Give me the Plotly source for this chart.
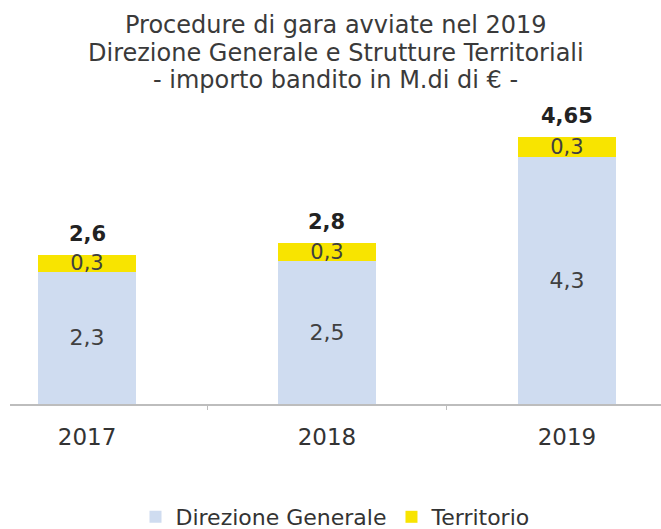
import plotly.graph_objects as go

years = ["2017", "2018", "2019"]
direzione = [2.3, 2.5, 4.3]
territorio = [0.3, 0.3, 0.35]
direzione_labels = ["2,3", "2,5", "4,3"]
territorio_labels = ["0,3", "0,3", "0,3"]
totals = [2.6, 2.8, 4.65]
total_labels = ["2,6", "2,8", "4,65"]
title_lines = [
    "Procedure di gara avviate nel 2019",
    "Direzione Generale e Strutture Territoriali",
    "- importo bandito in M.di di € -",
]

FONT = "DejaVu Sans"
W, H = 661, 529
MT, MB = 100, 125
PLOT_H = H - MT - MB

fig = go.Figure()
fig.add_trace(go.Bar(
    x=years, y=direzione, name="Direzione Generale",
    marker=dict(color="#cfdcf0", line=dict(width=0)),
    text=direzione_labels, textposition="inside", insidetextanchor="middle",
    constraintext="none", textangle=0,
    textfont=dict(family=FONT, size=22, color="#404040"),
))
fig.add_trace(go.Bar(
    x=years, y=territorio, name="Territorio",
    marker=dict(color="#f8e400", line=dict(width=0)),
    text=territorio_labels, textposition="inside", insidetextanchor="middle",
    constraintext="none", textangle=0,
    textfont=dict(family=FONT, size=21, color="#404040"),
))

annotations = []
for i, (tot, lab) in enumerate(zip(totals, total_labels)):
    annotations.append(dict(
        x=i, y=tot, xref="x", yref="y", text="<b>%s</b>" % lab,
        showarrow=False, yanchor="bottom", yshift=7,
        font=dict(family=FONT, size=21, color="#222222"),
    ))

title_centers_px = [25, 53, 80]
for line, py in zip(title_lines, title_centers_px):
    annotations.append(dict(
        x=0.5, xref="paper", xanchor="center",
        y=(H - MB - py) / PLOT_H, yref="paper", yanchor="middle",
        text=line, showarrow=False,
        font=dict(family=FONT, size=24, color="#3a3a3a"),
    ))

fig.update_layout(
    width=W, height=H,
    barmode="stack", bargap=0.59,
    paper_bgcolor="white", plot_bgcolor="white",
    margin=dict(l=10, r=0, t=MT, b=MB, autoexpand=False),
    annotations=annotations,
    xaxis=dict(
        type="category", range=[-0.321, 2.392],
        showline=True, linecolor="#bdbdbd", linewidth=1.5,
        ticks="outside", tickson="boundaries", ticklen=4, tickcolor="#bdbdbd",
        ticklabelstandoff=12,
        tickfont=dict(family=FONT, size=23, color="#333333"),
        showgrid=False,
    ),
    yaxis=dict(range=[0, 5.296], visible=False, showgrid=False),
    legend=dict(
        orientation="h", x=0.5, xanchor="center",
        yref="container", y=(H - 517) / H, yanchor="middle",
        font=dict(family=FONT, size=22, color="#333333"),
        traceorder="normal",
    ),
    showlegend=True,
)

fig.write_html(
    "out.html",
    config={"displayModeBar": False},
    post_script="document.body.style.margin='0';document.body.style.overflow='hidden';",
)
